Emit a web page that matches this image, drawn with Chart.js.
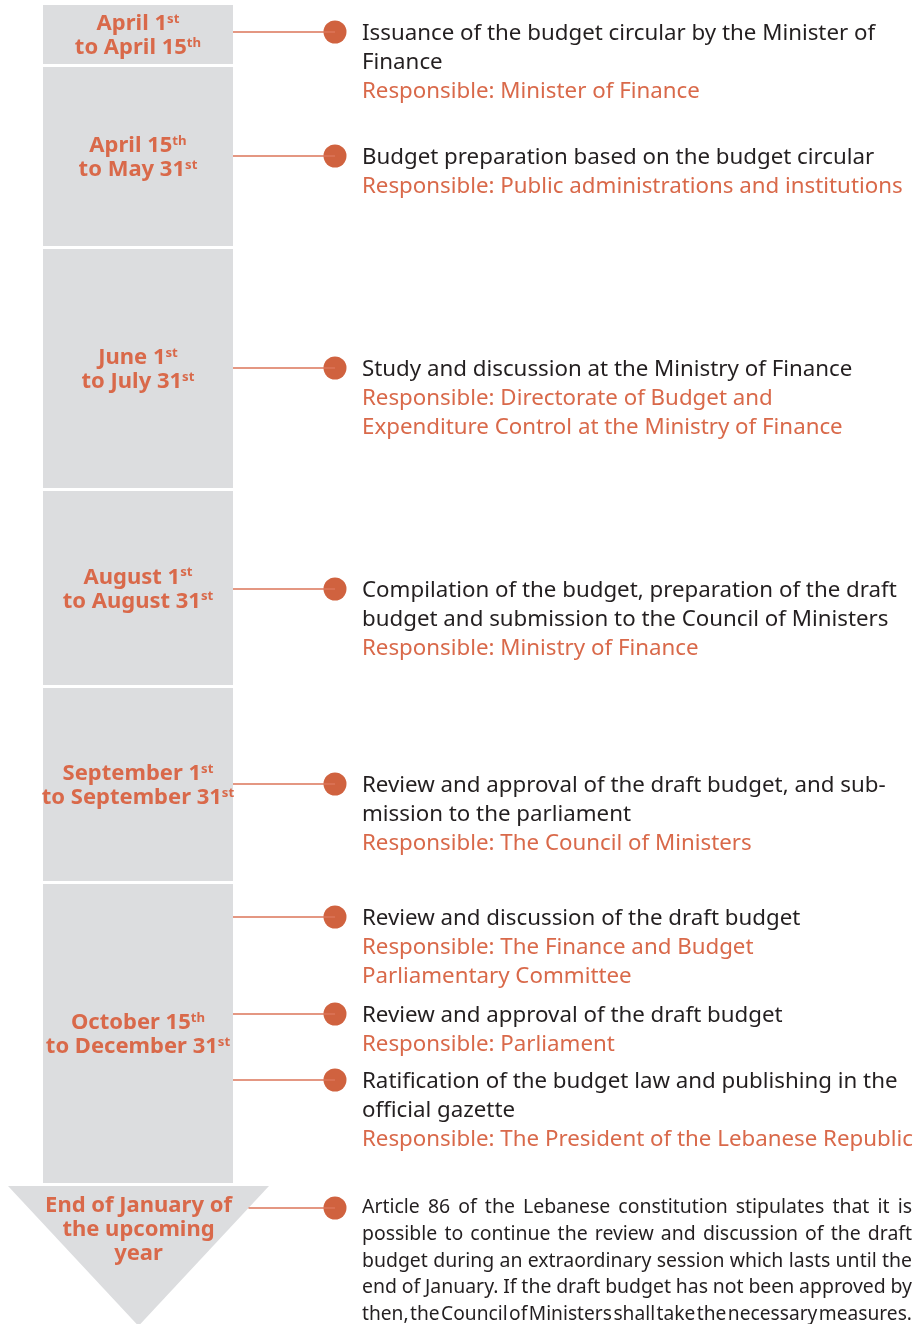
<!DOCTYPE html>
<html>
<head>
<meta charset="utf-8">
<script src="https://cdn.jsdelivr.net/npm/chart.js@4/dist/chart.umd.min.js"></script>
<style>
  body { margin: 0; background: #fff; }
  canvas { display: block; }
</style>
</head>
<body>
<canvas id="timeline" width="920" height="1324"></canvas>
<script>
// periods of the budget calendar (left column), "^" marks a superscript
const periodLabels = [
  ['April 1^st', 'to April 15^th'],
  ['April 15^th', 'to May 31^st'],
  ['June 1^st', 'to July 31^st'],
  ['August 1^st', 'to August 31^st'],
  ['September 1^st', 'to September 31^st'],
  ['October 15^th', 'to December 31^st'],
  ['End of January of', 'the upcoming', 'year']
];
const periodStart = [5, 67, 249, 491, 688, 884, 1186];
const periodEnd = [64, 246, 488, 685, 881, 1183, 1326];

// steps (right column)
const stepY = [32, 156, 368, 589, 784, 917, 1014, 1080, 1208];
const stepPeriod = [0, 1, 2, 3, 4, 5, 5, 5, 6];
const stepText = [
  ['Issuance of the budget circular by the Minister of', 'Finance'],
  ['Budget preparation based on the budget circular'],
  ['Study and discussion at the Ministry of Finance'],
  ['Compilation of the budget, preparation of the draft', 'budget and submission to the Council of Ministers'],
  ['Review and approval of the draft budget, and sub-', 'mission to the parliament'],
  ['Review and discussion of the draft budget'],
  ['Review and approval of the draft budget'],
  ['Ratification of the budget law and publishing in the', 'official gazette'],
  []
];
const stepResponsible = [
  ['Responsible: Minister of Finance'],
  ['Responsible: Public administrations and institutions'],
  ['Responsible: Directorate of Budget and', 'Expenditure Control at the Ministry of Finance'],
  ['Responsible: Ministry of Finance'],
  ['Responsible: The Council of Ministers'],
  ['Responsible: The Finance and Budget', 'Parliamentary Committee'],
  ['Responsible: Parliament'],
  ['Responsible: The President of the Lebanese Republic'],
  []
];
const noteLines = [
  'Article 86 of the Lebanese constitution stipulates that it is',
  'possible to continue the review and discussion of the draft',
  'budget during an extraordinary session which lasts until the',
  'end of January. If the draft budget has not been approved by',
  'then, the Council of Ministers shall take the necessary measures.'
];

const GREY = '#dcdddf';
const ORANGE = '#d9694a';
const DOT = '#d0623f';
const LINE = '#dc7659';
const DARK = '#231f20';
const FONT = '"Noto Sans", "Open Sans", sans-serif';

const colLeft = 43, colRight = 233, arrowLeft = 8, arrowRight = 269;
const dotX = 335, textX = 362, textRight = 912;

function fitSize(ctx, weight, sample, width) {
  ctx.font = weight + ' 100px ' + FONT;
  return 100 * width / ctx.measureText(sample).width;
}

function arrowEdgeX(y) {
  // right edge of the bottom arrow at height y
  const tipX = (arrowLeft + arrowRight) / 2, top = periodStart[6], tip = periodEnd[6];
  return arrowRight - (arrowRight - tipX) * (y - top) / (tip - top);
}

// connector segments separated by nulls
const connectors = [];
stepY.forEach((y, i) => {
  const x0 = stepPeriod[i] === 6 ? arrowEdgeX(y) : colRight;
  connectors.push({ x: x0, y: y }, { x: dotX, y: y }, { x: null, y: null });
});

const timelinePlugin = {
  id: 'timeline',
  beforeDatasetsDraw(chart) {
    const ctx = chart.ctx, xs = chart.scales.x, ys = chart.scales.y;
    ctx.save();
    ctx.fillStyle = GREY;
    periodStart.forEach((s, i) => {
      const top = ys.getPixelForValue(s), bot = ys.getPixelForValue(periodEnd[i]);
      if (i < 6) {
        const l = xs.getPixelForValue(colLeft), r = xs.getPixelForValue(colRight);
        ctx.fillRect(l, top, r - l, bot - top);
      } else {
        const l = xs.getPixelForValue(arrowLeft), r = xs.getPixelForValue(arrowRight);
        ctx.beginPath();
        ctx.moveTo(l, top);
        ctx.lineTo(r, top);
        ctx.lineTo((l + r) / 2, bot);
        ctx.closePath();
        ctx.fill();
      }
    });
    ctx.restore();
  },
  afterDatasetsDraw(chart) {
    const ctx = chart.ctx, xs = chart.scales.x, ys = chart.scales.y;
    ctx.save();
    ctx.textBaseline = 'alphabetic';
    ctx.textAlign = 'left';

    // period labels
    const labSize = fitSize(ctx, 'bold', 'End of January of', 187);
    const supSize = labSize * 0.6;
    periodLabels.forEach((lines, i) => {
      const cx = i < 6 ? xs.getPixelForValue((colLeft + colRight) / 2) : xs.getPixelForValue((arrowLeft + arrowRight) / 2);
      const cy = i < 6 ? ys.getPixelForValue((periodStart[i] + periodEnd[i]) / 2) : ys.getPixelForValue(1228);
      lines.forEach((ln, j) => {
        const parts = ln.split('^');
        ctx.font = 'bold ' + labSize + 'px ' + FONT;
        const w1 = ctx.measureText(parts[0]).width;
        let w2 = 0;
        if (parts[1]) { ctx.font = 'bold ' + supSize + 'px ' + FONT; w2 = ctx.measureText(parts[1]).width; }
        const y = cy + (j - (lines.length - 1) / 2) * 24 + labSize * 0.36;
        const x0 = cx - (w1 + w2) / 2;
        ctx.fillStyle = ORANGE;
        ctx.font = 'bold ' + labSize + 'px ' + FONT;
        ctx.fillText(parts[0], x0, y);
        if (parts[1]) {
          ctx.font = 'bold ' + supSize + 'px ' + FONT;
          ctx.fillText(parts[1], x0 + w1, y - labSize * 0.36);
        }
      });
    });

    // step texts
    const size = 22.3;
    const tx = xs.getPixelForValue(textX);
    ctx.font = size + 'px ' + FONT;
    stepY.forEach((v, i) => {
      const y0 = ys.getPixelForValue(v) + size * 0.36;
      const lines = stepText[i].map(t => [t, DARK]).concat(stepResponsible[i].map(t => [t, ORANGE]));
      lines.forEach((l, j) => {
        ctx.fillStyle = l[1];
        ctx.fillText(l[0], tx, y0 + j * 29);
      });
    });

    // justified note under the arrow
    const full = xs.getPixelForValue(textRight) - tx;
    const nSize = fitSize(ctx, 'normal', noteLines[2], full - 2);
    ctx.font = nSize + 'px ' + FONT;
    ctx.fillStyle = DARK;
    const sp = ctx.measureText(' ').width;
    const ny = ys.getPixelForValue(stepY[8]) + nSize * 0.36 - 2;
    noteLines.forEach((ln, j) => {
      const words = ln.split(' ');
      let ww = 0;
      words.forEach(w => { ww += ctx.measureText(w).width; });
      let gap = (full - ww) / (words.length - 1);
      let sx = 1;
      if (gap < sp * 0.3) {
        gap = sp * 0.3;
        sx = full / (ww + gap * (words.length - 1));
      }
      ctx.save();
      ctx.translate(tx, ny + j * 26.75);
      ctx.scale(sx, 1);
      let x = 0;
      words.forEach(w => {
        ctx.fillText(w, x, 0);
        x += ctx.measureText(w).width + gap;
      });
      ctx.restore();
    });
    ctx.restore();
  }
};

new Chart(document.getElementById('timeline'), {
  type: 'scatter',
  data: {
    datasets: [
      {
        type: 'line',
        data: connectors,
        borderColor: LINE,
        borderWidth: 1.6,
        pointRadius: 0,
        spanGaps: false,
        fill: false
      },
      {
        data: stepY.map(y => ({ x: dotX, y: y })),
        backgroundColor: DOT,
        borderWidth: 0,
        pointRadius: 11.5,
        pointHoverRadius: 11.5
      }
    ]
  },
  options: {
    responsive: false,
    animation: false,
    devicePixelRatio: 1,
    layout: { padding: 0, autoPadding: false },
    plugins: { legend: { display: false }, tooltip: { enabled: false } },
    events: [],
    scales: {
      x: { type: 'linear', min: 0, max: 920, display: false },
      y: { type: 'linear', min: 0, max: 1324, reverse: true, display: false }
    }
  },
  plugins: [timelinePlugin]
});
</script>
</body>
</html>
